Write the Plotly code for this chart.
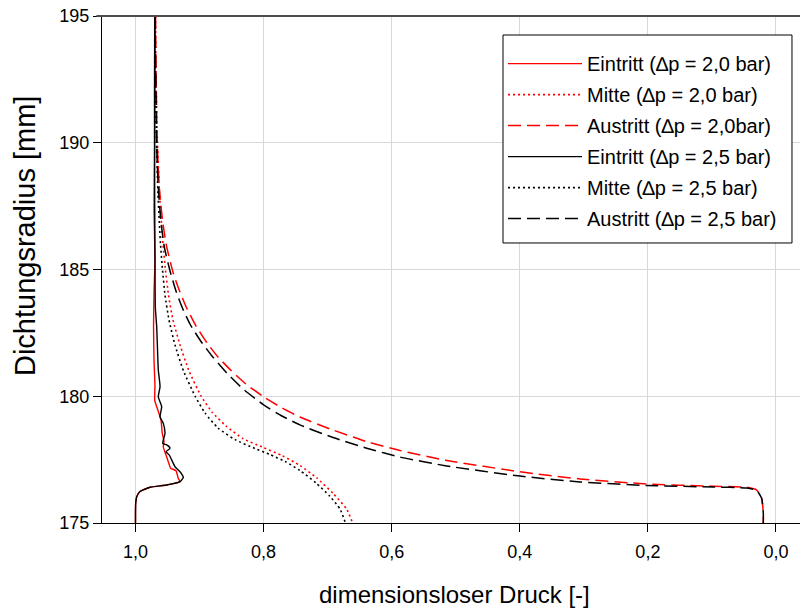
import plotly.graph_objects as go

# Dimensionless pressure along the seal radius, three positions, two pressure differences

# Eintritt, dp = 2,0 bar
r_ein_20 = [195.0, 192.0, 190.0, 187.5, 185.37, 184.06, 182.74, 181.43, 180.38, 179.85, 179.5,
            179.06, 178.54, 178.21, 178.01, 177.68, 177.42, 177.16, 177.06, 176.76, 176.63,
            176.50, 176.41, 176.24, 176.04, 175.78, 175.0]
p_ein_20 = [0.9688, 0.9696, 0.9700, 0.9711, 0.9696, 0.9711, 0.9718, 0.9711, 0.9696, 0.9700, 0.9657,
            0.9602, 0.9582, 0.9555, 0.9566, 0.9524, 0.9488, 0.9451, 0.9368, 0.9332, 0.9305,
            0.9513, 0.9774, 0.9930, 0.9981, 0.9997, 1.0]

# Mitte, dp = 2,0 bar
r_mit_20 = [195.0, 192.48, 190.0, 187.98, 186.01, 184.98, 183.99, 183.01, 182.02, 181.0, 180.01,
            179.38, 178.83, 178.33, 177.98, 177.66, 177.27, 176.78, 176.16, 175.55, 175.0]
p_mit_20 = [0.9688, 0.9680, 0.9657, 0.9625, 0.9571, 0.9532, 0.9485, 0.9415, 0.9305, 0.9165, 0.8977,
            0.8806, 0.8587, 0.8322, 0.8005, 0.7713, 0.7432, 0.7171, 0.6912, 0.6703, 0.6609]

# Austritt, dp = 2,0 bar
r_aus_20 = [195.0, 192.48, 190.0, 188.22, 186.87, 185.93, 184.85, 184.11, 183.48, 182.77, 182.12,
            181.55, 181.06, 180.48, 179.99, 179.54, 179.18, 178.71, 178.21, 177.86, 177.47, 177.02,
            176.74, 176.54, 176.45, 176.41, 176.30, 175.97, 175.38, 175.0]
p_aus_20 = [0.9688, 0.9677, 0.9661, 0.9628, 0.9575, 0.9516, 0.9410, 0.9305, 0.9201, 0.9055, 0.8888,
            0.8712, 0.8525, 0.8275, 0.8005, 0.7713, 0.7432, 0.6963, 0.6390, 0.5870, 0.5141, 0.3997,
            0.3060, 0.2019, 0.0979, 0.0457, 0.0301, 0.0223, 0.0198, 0.0198]

# Eintritt, dp = 2,5 bar
r_ein_25 = [195.0, 192.0, 190.0, 187.5, 185.37, 183.5, 182.74, 181.04, 180.38, 179.98, 179.59,
            179.19, 178.93, 178.54, 178.14, 178.08, 177.95, 177.81, 177.68, 177.49, 177.22,
            177.02, 176.80, 176.63, 176.50, 176.41, 176.24, 176.04, 175.78, 175.0]
p_ein_25 = [0.9700, 0.9703, 0.9703, 0.9700, 0.9696, 0.9690, 0.9669, 0.9644, 0.9617, 0.9644, 0.9591,
            0.9617, 0.9566, 0.9539, 0.9575, 0.9513, 0.9461, 0.9524, 0.9472, 0.9435, 0.9383,
            0.9305, 0.9254, 0.9305, 0.9513, 0.9774, 0.9930, 0.9981, 0.9997, 1.0]

# Mitte, dp = 2,5 bar
r_mit_25 = [195.0, 192.48, 190.0, 187.98, 186.01, 184.98, 183.99, 183.01, 182.02, 181.0, 180.01,
            179.34, 178.75, 178.29, 177.94, 177.70, 177.43, 177.07, 176.58, 176.05, 175.55, 175.0]
p_mit_25 = [0.9696, 0.9688, 0.9672, 0.9649, 0.9610, 0.9578, 0.9539, 0.9477, 0.9383, 0.9251, 0.9071,
            0.8915, 0.8712, 0.8447, 0.8134, 0.7900, 0.7666, 0.7432, 0.7182, 0.6963, 0.6807, 0.6721]

# Austritt, dp = 2,5 bar
r_aus_25 = [195.0, 192.48, 190.0, 188.22, 186.87, 185.85, 184.94, 184.15, 183.52, 182.85, 182.22,
            181.59, 180.92, 180.29, 179.67, 179.22, 178.87, 178.39, 177.95, 177.60, 177.25, 176.85,
            176.62, 176.48, 176.42, 176.38, 176.28, 175.97, 175.38, 175.0]
p_aus_25 = [0.9696, 0.9683, 0.9671, 0.9644, 0.9602, 0.9547, 0.9461, 0.9368, 0.9274, 0.9149, 0.8993,
            0.8806, 0.8576, 0.8322, 0.8005, 0.7713, 0.7432, 0.6937, 0.6390, 0.5870, 0.5141, 0.3997,
            0.3060, 0.2019, 0.0979, 0.0457, 0.0301, 0.0223, 0.0198, 0.0198]

x_ticks = [1.0, 0.8, 0.6, 0.4, 0.2, 0.0]
y_ticks = [175, 180, 185, 190, 195]

series = [
    ("Eintritt (\u2206p = 2,0 bar)", p_ein_20, r_ein_20, "#ff0000", "solid", 1.4),
    ("Mitte (\u2206p = 2,0 bar)", p_mit_20, r_mit_20, "#ff0000", "2px,3px", 1.6),
    ("Austritt (\u2206p = 2,0bar)", p_aus_20, r_aus_20, "#ff0000", "13px,6px", 1.5),
    ("Eintritt (\u2206p = 2,5 bar)", p_ein_25, r_ein_25, "#000000", "solid", 1.4),
    ("Mitte (\u2206p = 2,5 bar)", p_mit_25, r_mit_25, "#000000", "2px,3px", 1.6),
    ("Austritt (\u2206p = 2,5 bar)", p_aus_25, r_aus_25, "#000000", "13px,6px", 1.5),
]

fig = go.Figure()
for i, (name, p, r, color, dash, width) in enumerate(series):
    fig.add_trace(go.Scatter(
        x=p, y=r, mode="lines", name=name, legendgroup=f"g{i}",
        line=dict(color=color, dash=dash, width=width, shape="spline", smoothing=0.5),
    ))

axis_style = dict(
    showgrid=True, gridcolor="#d9d9d9", gridwidth=1,
    showline=True, linecolor="black", linewidth=1,
    ticks="outside", ticklen=8, tickcolor="black", tickwidth=1,
    zeroline=False, tickfont=dict(size=18),
)

fig.update_xaxes(range=[1.0523, -0.0375], tickvals=x_ticks, tickformat=".1f",
                 ticklabelstandoff=4, **axis_style)
fig.update_yaxes(range=[175, 195], tickvals=y_ticks, **axis_style)

# legend frame (paper coordinates), drawn as a white box with black border
legend_box = dict(x0=0.5745, x1=0.9885, y0=0.5523, y1=0.9625)

fig.update_layout(
    width=800, height=613,
    margin=dict(l=102, r=0, t=16, b=90, pad=0),
    paper_bgcolor="white", plot_bgcolor="white",
    font=dict(family="Arial, 'Liberation Sans', sans-serif", color="black", size=18),
    separators=",.",
    legend=dict(
        x=legend_box["x0"], y=legend_box["y1"], xanchor="left", yanchor="top",
        borderwidth=0, bgcolor="rgba(0,0,0,0)",
        font=dict(size=20), itemwidth=74, tracegroupgap=2,
        title=dict(text=" ", font=dict(size=7)),
    ),
    shapes=[
        dict(type="rect", xref="paper", yref="paper", layer="above",
             fillcolor="white", line=dict(color="black", width=1), **legend_box),
        dict(type="line", xref="paper", yref="paper", x0=-0.008, x1=1, y0=1, y1=1,
             line=dict(color="#4d4d4d", width=2)),
    ],
    annotations=[
        dict(text="dimensionsloser Druck [-]", xref="paper", yref="paper", x=0.5057, y=-0.142,
             showarrow=False, xanchor="center", yanchor="middle", font=dict(size=24)),
        dict(text="Dichtungsradius [mm]", xref="paper", yref="paper", x=-0.1103, y=0.566,
             showarrow=False, font=dict(size=29), textangle=-90, xanchor="center", yanchor="middle"),
    ],
)

fig.write_html("out.html")
